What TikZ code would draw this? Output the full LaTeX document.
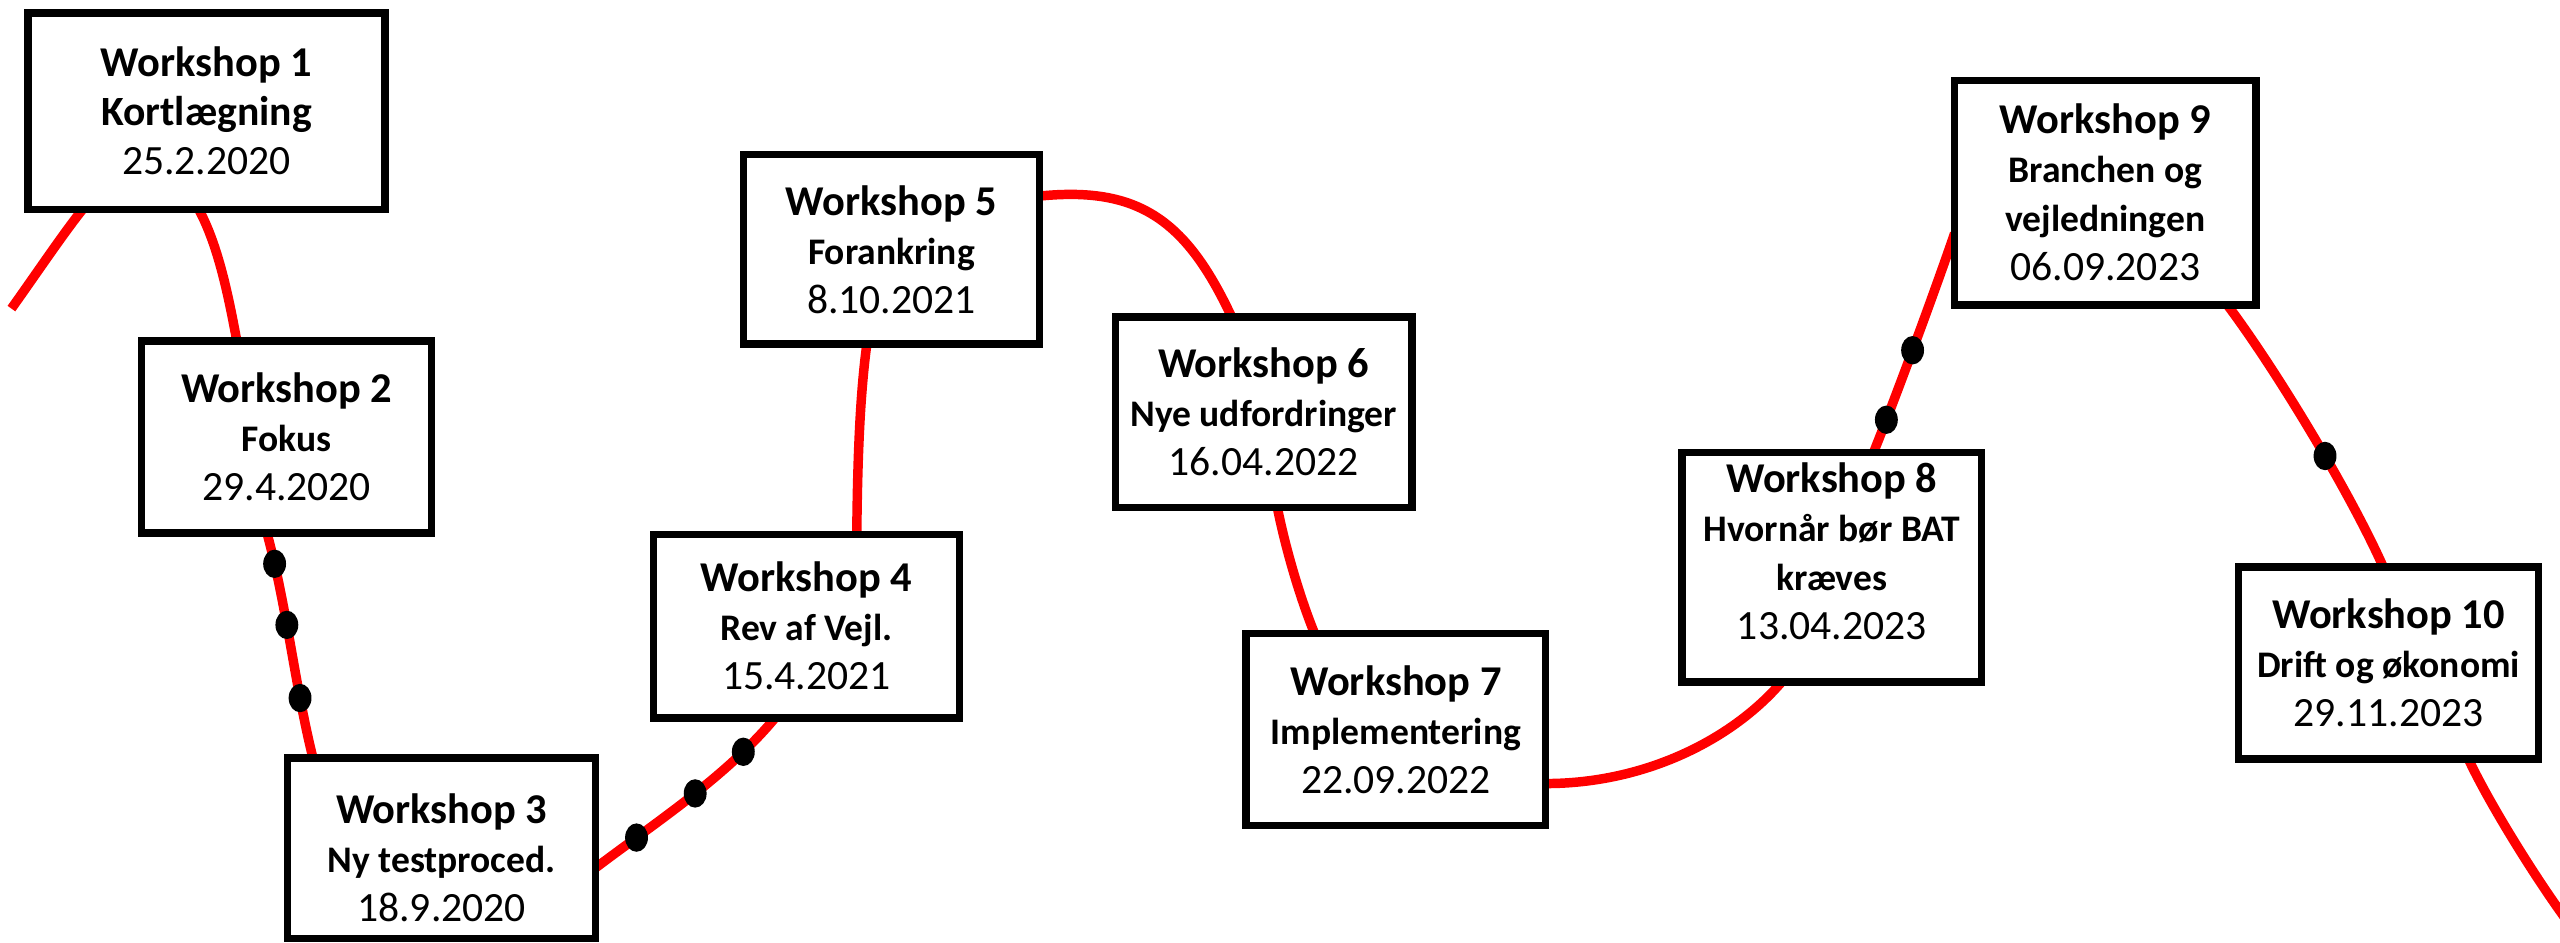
\documentclass[tikz,border=0pt]{standalone}
\usepackage{fontspec}
\setmainfont{Carlito}
\usetikzlibrary{calc,backgrounds,shapes.geometric}
\newcommand\wsT{\fontsize{26}{30}\selectfont\bfseries}
\newcommand\wsS{\fontsize{23}{30}\selectfont\bfseries}
\newcommand\wsB{\fontsize{25.5}{30}\selectfont\bfseries}
\newcommand\wsD{\fontsize{25.5}{30}\selectfont\mdseries}
\newcommand\wsUp[1]{\rule[-#1pt]{0pt}{0pt}}
\newcommand\wsDown[1]{\rule{0pt}{#1pt}}
\tikzset{
  wbox/.style={draw=black, line width=4.5pt, fill=white, outer sep=0pt, inner sep=0pt, align=center, font=\wsT},
  redline/.style={draw=red, line width=5.8pt},
  dotm/.style={ellipse, fill=black, draw=none, minimum width=14pt, minimum height=17.4pt, inner sep=0pt},
}
\begin{document}
\begin{tikzpicture}[x=1pt,y=-1pt]
\useasboundingbox (0,0) rectangle (1568,577);
\clip (0,0) rectangle (1568,577);

\node[wbox, minimum width=218.6pt, minimum height=120.2pt] (b1) at (126.5,68.1) {Workshop 1\\\wsB Kortlægning\\\wsD 25.2.2020};
\node[wbox, minimum width=177.6pt, minimum height=117.7pt] (b2) at (175.6,267.7) {Workshop 2\\\wsS Fokus\\\wsD 29.4.2020};
\node[wbox, minimum width=188.6pt, minimum height=110.6pt] (b3) at (270.5,519.5) {\wsDown{30}Workshop 3\\\wsS Ny testproced.\\\wsD 18.9.2020};
\node[wbox, minimum width=187.6pt, minimum height=112.6pt] (b4) at (494,383.5) {Workshop 4\\\wsS Rev af Vejl.\\\wsD 15.4.2021};
\node[wbox, minimum width=181.6pt, minimum height=116pt] (b5) at (546,152.8) {Workshop 5\\\wsS Forankring\\\wsD 8.10.2021};
\node[wbox, minimum width=181.6pt, minimum height=116.6pt] (b6) at (774,252.5) {Workshop 6\\\wsS Nye udfordringer\\\wsD 16.04.2022};
\node[wbox, minimum width=183.6pt, minimum height=117.6pt] (b7) at (855,447) {Workshop 7\\\wsS Implementering\\\wsD 22.09.2022};
\node[wbox, minimum width=183.6pt, minimum height=140.6pt] (b8) at (1122,347.5) {Workshop 8\\\wsS Hvornår bør BAT\\\wsS kræves\\\wsD 13.04.2023\wsUp{20}};
\node[wbox, minimum width=184.6pt, minimum height=137.6pt] (b9) at (1289.5,118) {Workshop 9\\\wsS Branchen og\\\wsS vejledningen\\\wsD 06.09.2023};
\node[wbox, minimum width=183.6pt, minimum height=117.6pt] (b10) at (1463,406) {Workshop 10\\\wsS Drift og økonomi\\\wsD 29.11.2023};

\coordinate (start) at (7,189);
\coordinate (finish) at (1580,574);
\coordinate (e1a) at ($(b1.south west)!0.153!(b1.south east)$);
\coordinate (e1b) at ($(b1.south west)!0.478!(b1.south east)$);
\coordinate (e2a) at ($(b2.north west)!0.328!(b2.north east)$);
\coordinate (e2b) at ($(b2.south west)!0.432!(b2.south east)$);
\coordinate (e3a) at ($(b3.north west)!0.082!(b3.north east)$);
\coordinate (e3b) at ($(b3.north east)!0.609!(b3.south east)$);
\coordinate (e4a) at ($(b4.south west)!0.397!(b4.south east)$);
\coordinate (e4b) at ($(b4.north west)!0.664!(b4.north east)$);
\coordinate (e5a) at ($(b5.south west)!0.417!(b5.south east)$);
\coordinate (e5b) at ($(b5.north east)!0.218!(b5.south east)$);
\coordinate (e6a) at ($(b6.north west)!0.392!(b6.north east)$);
\coordinate (e6b) at ($(b6.south west)!0.546!(b6.south east)$);
\coordinate (e7a) at ($(b7.north west)!0.229!(b7.north east)$);
\coordinate (e7b) at ($(b7.north east)!0.78!(b7.south east)$);
\coordinate (e8a) at ($(b8.south west)!0.332!(b8.south east)$);
\coordinate (e8b) at ($(b8.north west)!0.639!(b8.north east)$);
\coordinate (e9a) at ($(b9.north west)!0.681!(b9.south west)$);
\coordinate (e9b) at ($(b9.south west)!0.905!(b9.south east)$);
\coordinate (e10a) at ($(b10.north west)!0.482!(b10.north east)$);
\coordinate (e10b) at ($(b10.south west)!0.766!(b10.south east)$);

\begin{pgfonlayer}{background}
\fill[white] (0,0) rectangle (1568,577);
\draw[redline] (start) .. controls +(15,-21) and +(-12,15) .. (e1a);
\draw[redline] (e1b) .. controls +(12,22) and +(-5,-27) .. (e2a);
\draw[redline] (e2b) .. controls +(12,44) and +(-11,-44) .. (e3a)
  node[dotm,pos=0.14] (d1) {} node[dotm,pos=0.41] (d2) {} node[dotm,pos=0.73] (d3) {};
\draw[redline] (e3b) .. controls +(37,-28) and +(-30,36) .. (e4a)
  node[dotm,pos=0.22] (d4) {} node[dotm,pos=0.53] (d5) {} node[dotm,pos=0.80] (d6) {};
\draw[redline] (e4b) .. controls +(0.5,-50) and +(-4,30) .. (e5a);
\draw[redline] (e5b) .. controls +(60,-6) and +(-28,-60) .. (e6a);
\draw[redline] (e6b) .. controls +(5,25) and +(-9,-22) .. (e7a);
\draw[redline] (e7b) .. controls +(61,0) and +(-30,35) .. (e8a);
\draw[redline] (e8b) .. controls +(14,-35) and +(-12,35) .. (e9a)
  node[dotm,pos=0.17] (d7) {} node[dotm,pos=0.47] (d8) {};
\draw[redline] (e9b) .. controls +(30,40) and +(-20,-45) .. (e10a)
  node[dotm,pos=0.58] (d9) {};
\draw[redline] (e10b) .. controls +(15,32) and +(-18,-22) .. (finish);
\end{pgfonlayer}
\end{tikzpicture}
\end{document}
